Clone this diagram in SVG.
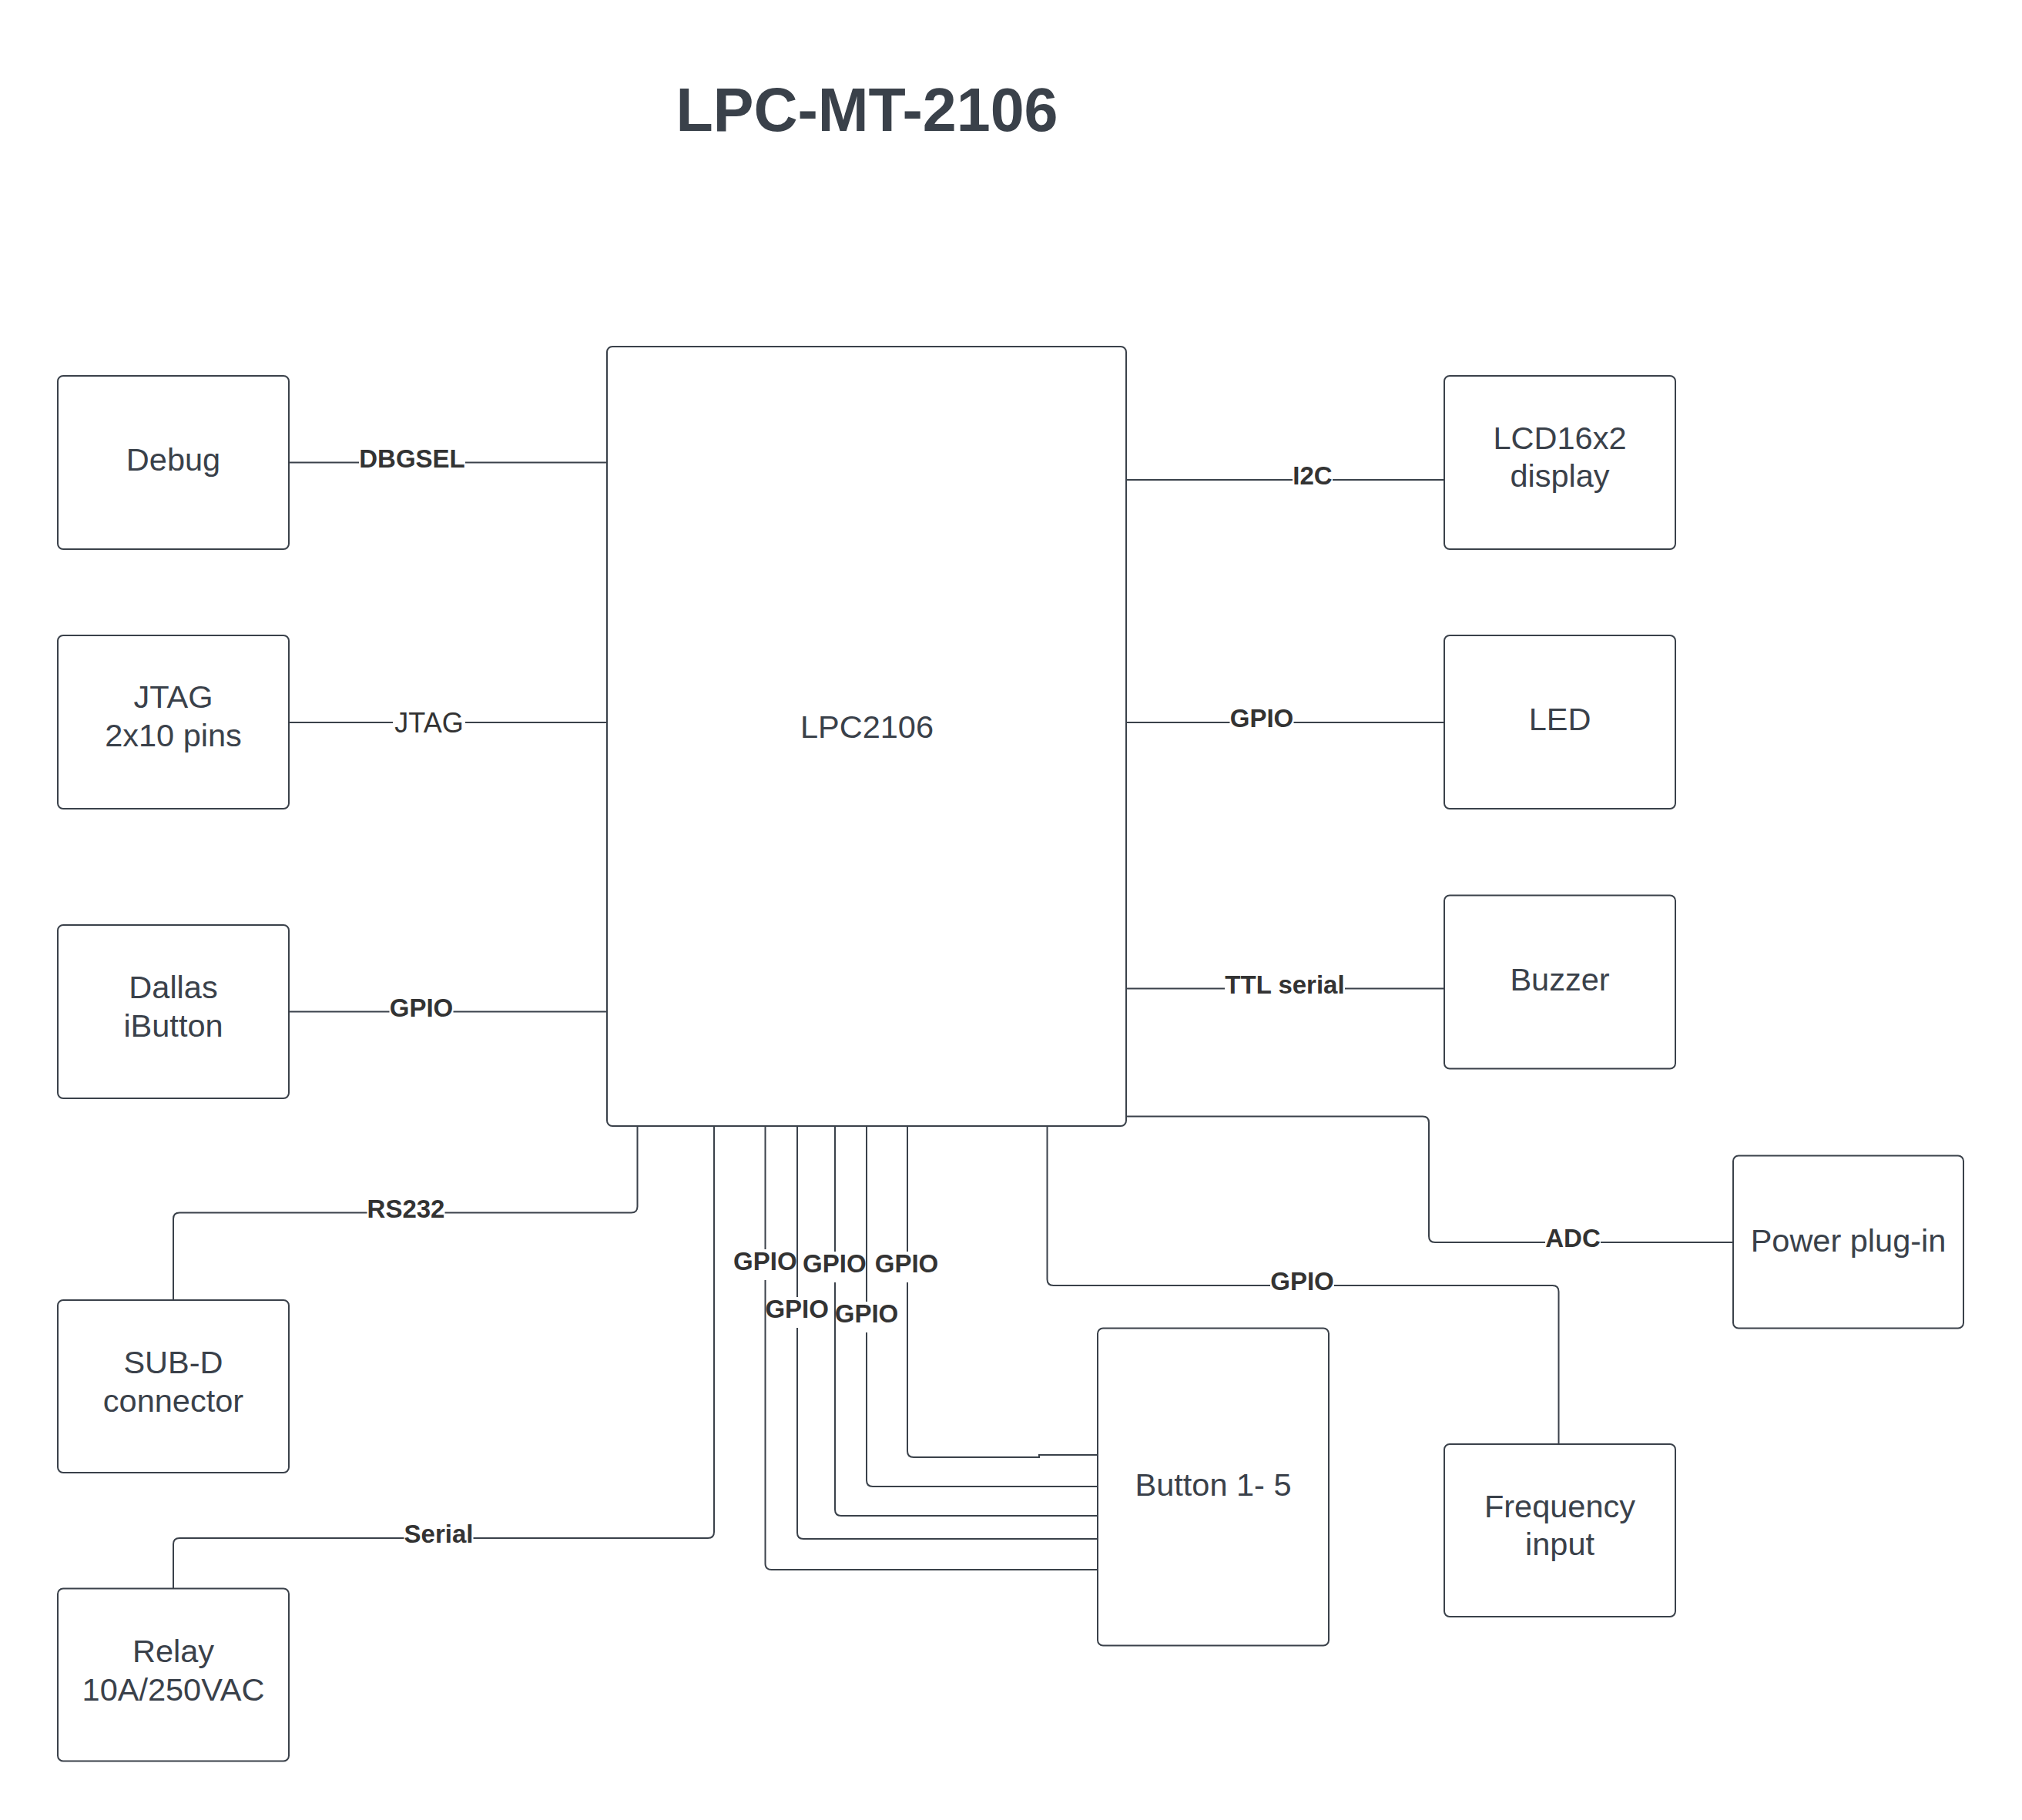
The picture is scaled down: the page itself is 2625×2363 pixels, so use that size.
<svg xmlns="http://www.w3.org/2000/svg" width="2625" height="2363" viewBox="0 0 2625 2363">
<style>
.box{fill:#ffffff;stroke:#3a414a;stroke-width:2}
.t{font-family:"Liberation Sans",Arial,sans-serif;font-size:41.5px;fill:#3a414a;text-anchor:middle}
.title{font-family:"Liberation Sans",Arial,sans-serif;font-size:79px;font-weight:bold;fill:#3a414a;text-anchor:middle}
.c{fill:none;stroke:#3a414a;stroke-width:2}
.lb{font-family:"Liberation Sans",Arial,sans-serif;font-size:33px;font-weight:bold;fill:#333333;text-anchor:middle}
.lr{font-family:"Liberation Sans",Arial,sans-serif;font-size:36px;fill:#333333;text-anchor:middle}
.bg{fill:#ffffff;stroke:none}
</style>
<rect width="2625" height="2363" fill="#ffffff"/>
<text class="title" x="1125.5" y="170">LPC-MT-2106</text>

<g id="connectors">
  <path class="c" d="M375,600.5 H788"/>
  <path class="c" d="M375,938 H788"/>
  <path class="c" d="M375,1313.5 H788"/>
  <path class="c" d="M1462,623 H1875"/>
  <path class="c" d="M1462,938 H1875"/>
  <path class="c" d="M1462,1283.5 H1875"/>
  <path class="c" d="M1462,1449.5 H1847 Q1855,1449.5 1855,1457.5 V1605 Q1855,1613 1863,1613 H2250"/>
  <path class="c" d="M1359.5,1462 V1661 Q1359.5,1669 1367.5,1669 H2015.5 Q2023.5,1669 2023.5,1677 V1875"/>
  <path class="c" d="M827.5,1462 V1566.5 Q827.5,1574.5 819.5,1574.5 H233 Q225,1574.5 225,1582.5 V1688"/>
  <path class="c" d="M927,1462 V1989 Q927,1997 919,1997 H233 Q225,1997 225,2005 V2062.5"/>
  <path class="c" d="M993.5,1462 V2030 Q993.5,2038 1001.5,2038 H1425"/>
  <path class="c" d="M1035,1462 V1990 Q1035,1998 1043,1998 H1425"/>
  <path class="c" d="M1084,1462 V1960 Q1084,1968 1092,1968 H1425"/>
  <path class="c" d="M1125,1462 V1922 Q1125,1930 1133,1930 H1425"/>
  <path class="c" d="M1178,1462 V1884 Q1178,1892 1186,1892 H1349 V1889 H1425"/>

  <rect class="bg" x="466" y="580" width="138" height="38"/>
  <text class="lb" x="535" y="606.5">DBGSEL</text>
  <rect class="bg" x="510" y="917" width="94" height="42"/>
  <text class="lr" x="557" y="950.5">JTAG</text>
  <rect class="bg" x="505.5" y="1293" width="83" height="38"/>
  <text class="lb" x="547" y="1319.5">GPIO</text>
  <rect class="bg" x="1678" y="603" width="52" height="38"/>
  <text class="lb" x="1704" y="629">I2C</text>
  <rect class="bg" x="1596.5" y="918" width="83" height="38"/>
  <text class="lb" x="1638" y="944">GPIO</text>
  <rect class="bg" x="1590" y="1263" width="156" height="38"/>
  <text class="lb" x="1668" y="1289.5">TTL serial</text>
  <rect class="bg" x="2006" y="1593" width="72" height="38"/>
  <text class="lb" x="2042" y="1619">ADC</text>
  <rect class="bg" x="1649" y="1649" width="83" height="38"/>
  <text class="lb" x="1690.5" y="1675">GPIO</text>
  <rect class="bg" x="476.5" y="1554" width="101" height="38"/>
  <text class="lb" x="527" y="1580.5">RS232</text>
  <rect class="bg" x="524.5" y="1977" width="90" height="38"/>
  <text class="lb" x="569.5" y="2003">Serial</text>

  <rect class="bg" x="952.5" y="1622" width="81" height="40"/>
  <text class="lb" x="993.3" y="1649">GPIO</text>
  <rect class="bg" x="995" y="1684" width="79" height="40"/>
  <text class="lb" x="1034.7" y="1711">GPIO</text>
  <rect class="bg" x="1044" y="1625" width="79" height="40"/>
  <text class="lb" x="1083.3" y="1652.3">GPIO</text>
  <rect class="bg" x="1086" y="1690" width="79" height="40"/>
  <text class="lb" x="1125" y="1716.7">GPIO</text>
  <rect class="bg" x="1136.5" y="1625" width="81" height="40"/>
  <text class="lb" x="1177" y="1652.3">GPIO</text>
</g>

<g id="lpc2106">
  <rect class="box" x="788" y="450" width="674" height="1012" rx="7"/>
  <text class="t" x="1125.5" y="958">LPC2106</text>
</g>
<g id="debug">
  <rect class="box" x="75" y="488" width="300" height="225" rx="7"/>
  <text class="t" x="225" y="611">Debug</text>
</g>
<g id="jtag">
  <rect class="box" x="75" y="825" width="300" height="225" rx="7"/>
  <text class="t" x="225" y="919">JTAG</text>
  <text class="t" x="225" y="969">2x10 pins</text>
</g>
<g id="dallas">
  <rect class="box" x="75" y="1201" width="300" height="225" rx="7"/>
  <text class="t" x="225" y="1296">Dallas</text>
  <text class="t" x="225" y="1346">iButton</text>
</g>
<g id="subd">
  <rect class="box" x="75" y="1688" width="300" height="224" rx="7"/>
  <text class="t" x="225" y="1783">SUB-D</text>
  <text class="t" x="225" y="1833">connector</text>
</g>
<g id="relay">
  <rect class="box" x="75" y="2062.5" width="300" height="224" rx="7"/>
  <text class="t" x="225" y="2158">Relay</text>
  <text class="t" x="225" y="2208">10A/250VAC</text>
</g>
<g id="lcd">
  <rect class="box" x="1875" y="488" width="300" height="225" rx="7"/>
  <text class="t" x="2025" y="583">LCD16x2</text>
  <text class="t" x="2025" y="632">display</text>
</g>
<g id="led">
  <rect class="box" x="1875" y="825" width="300" height="225" rx="7"/>
  <text class="t" x="2025" y="948">LED</text>
</g>
<g id="buzzer">
  <rect class="box" x="1875" y="1162.5" width="300" height="225" rx="7"/>
  <text class="t" x="2025" y="1286">Buzzer</text>
</g>
<g id="power">
  <rect class="box" x="2250" y="1500.5" width="299" height="224" rx="7"/>
  <text class="t" x="2399.5" y="1624.5">Power plug-in</text>
</g>
<g id="buttons">
  <rect class="box" x="1425" y="1724.5" width="300" height="412" rx="7"/>
  <text class="t" x="1575" y="1942">Button 1- 5</text>
</g>
<g id="frequency">
  <rect class="box" x="1875" y="1875" width="300" height="224" rx="7"/>
  <text class="t" x="2025" y="1970">Frequency</text>
  <text class="t" x="2025" y="2019">input</text>
</g>
</svg>
